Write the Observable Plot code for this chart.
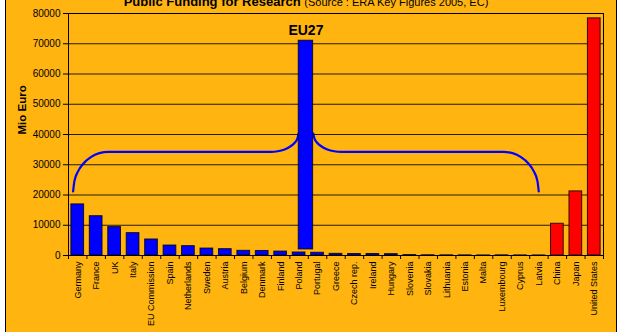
<!DOCTYPE html>
<html><head><meta charset="utf-8">
<script src="https://cdn.jsdelivr.net/npm/d3@7"></script>
<script src="https://cdn.jsdelivr.net/npm/@observablehq/plot@0.6"></script>
<style>
html,body{margin:0;padding:0;background:#fff;width:621px;height:332px;overflow:hidden;position:relative;}
#panel{position:absolute;left:5px;top:-2px;width:610px;height:340px;background:#FFB40F;border-left:1px solid #000;border-right:1px solid #000;}
#title{position:absolute;left:0;top:-7px;width:612px;text-align:center;font-family:"Liberation Sans",Arial,sans-serif;line-height:15px;color:#000;white-space:nowrap;}
#title b{font-size:13px;}
#title span{font-size:11px;}
#chart{position:absolute;left:0;top:0;}
</style></head>
<body>
<div id="panel"></div>
<div id="title"><b>Public Funding for Research </b><span>(Source : ERA Key Figures 2005, EC)</span></div>
<div id="chart"></div>
<script>
const categories = ["Germany","France","UK","Italy","EU Commission","Spain","Netherlands","Sweden","Austria","Belgium","Denmark","Finland","Poland","Portugal","Greece","Czech rep.","Ireland","Hungary","Slovenia","Slovakia","Lithuania","Estonia","Malta","Luxembourg","Cyprus","Latvia","China","Japan","United States"];
const values = [16900,13000,9400,7400,5300,3300,3100,2300,2100,1550,1500,1300,1000,900,550,500,500,450,150,80,60,50,30,60,40,30,10500,21200,78400];
const nonEU = ["China","Japan","United States"];
const yTicks = [0,10000,20000,30000,40000,50000,60000,70000,80000];

// EU27 total bar (drawn between Poland and Portugal), in category-index units
const eu27Label = "EU27";
const eu27Center = 12.87;
const eu27Low = 2000;
const eu27High = 71000;
const eu27LabelValue = 74500;

// left half of the brace (category-index units, Mio Euro); right half is its mirror
const braceX = [0.25,0.32,0.51,0.81,1.21,1.67,2.17,10.95,11.34,11.71,12.02,12.26,12.41,12.47];
const braceY = [21190,24570,27730,30430,32520,33840,34270,34270,34470,35070,36030,37280,38740,40300];

const n = categories.length;
const bars = categories.map((c,i)=>({name:c, value:values[i], i, region: nonEU.includes(c) ? "Other" : "EU"}));
const braceLeft = braceX.map((x,k)=>({x, y:braceY[k]}));
const braceRight = braceLeft.map(d=>({x: 2*eu27Center - d.x, y:d.y})).reverse();
const half = 0.345;

const plot = Plot.plot({
  width:621, height:332,
  marginLeft:68, marginRight:18, marginTop:13, marginBottom:77,
  style:{background:"transparent", fontFamily:"'Liberation Sans', Arial, sans-serif", fontSize:"10px", color:"#000"},
  x:{domain:[0,n], axis:null},
  y:{domain:[0,80000], axis:null},
  marks:[
    Plot.ruleY(yTicks.slice(1,-1), {stroke:"#000", strokeWidth:1, strokeOpacity:0.85}),
    Plot.line(braceLeft, {x:"x", y:"y", stroke:"#0000FF", strokeWidth:2.2, curve:"monotone-x"}),
    Plot.line(braceRight, {x:"x", y:"y", stroke:"#0000FF", strokeWidth:2.2, curve:"monotone-x"}),
    Plot.rectY(bars, {x1:d=>d.i+0.5-half, x2:d=>d.i+0.5+half, y1:0, y2:"value",
      fill:d=>d.region==="EU" ? "#0000FF" : "#FF0000", stroke:"#000", strokeWidth:1, strokeOpacity:0.8}),
    Plot.rectY([{}], {x1:eu27Center-0.39, x2:eu27Center+0.39, y1:eu27Low, y2:eu27High,
      fill:"#0000FF", stroke:"#000", strokeWidth:1, strokeOpacity:0.8}),
    Plot.text([eu27Label], {x:eu27Center, y:eu27LabelValue, text:d=>d, fontWeight:"bold", fontSize:14, fill:"#000"}),
    Plot.frame({stroke:"#000"}),
    Plot.axisY({ticks:yTicks, tickFormat:d=>String(d), tickSize:5, tickPadding:3, fontSize:10, label:null}),
    Plot.axisX({ticks:d3.range(n).map(i=>i+0.5), tickFormat:v=>categories[Math.floor(v)], tickSize:0, tickPadding:6, tickRotate:-90, fontSize:9, label:null}),
    Plot.axisX({ticks:d3.range(n+1), tickFormat:()=>"", tickSize:4, label:null}),
    Plot.text(["Mio Euro"], {frameAnchor:"left", dx:-46, rotate:-90, text:d=>d, fontWeight:"bold", fontSize:11.5, fill:"#000"})
  ]
});
document.getElementById("chart").appendChild(plot);
</script>
</body></html>
